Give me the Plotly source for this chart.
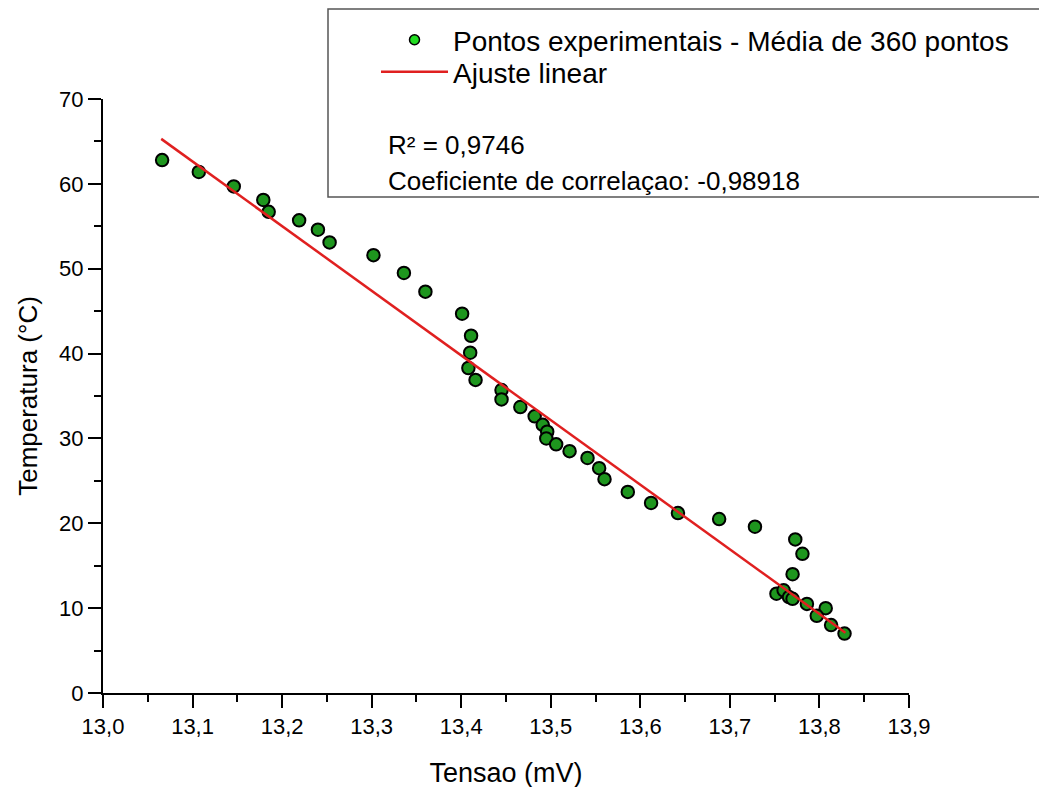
import plotly.graph_objects as go

# Experimental points (Tensao in mV, Temperatura in °C)
tensao = [13.066, 13.107, 13.146, 13.179, 13.185, 13.219, 13.240, 13.253, 13.302,
          13.336, 13.360, 13.401, 13.411, 13.410, 13.408, 13.416, 13.445, 13.445,
          13.466, 13.482, 13.491, 13.496, 13.495, 13.506, 13.521, 13.541, 13.554,
          13.560, 13.586, 13.612, 13.642, 13.688, 13.728, 13.773, 13.781, 13.770,
          13.752, 13.760, 13.766, 13.770, 13.786, 13.807, 13.797, 13.813, 13.828]
temperatura = [62.8, 61.4, 59.7, 58.1, 56.7, 55.7, 54.6, 53.1, 51.6,
               49.5, 47.3, 44.7, 42.1, 40.1, 38.3, 36.9, 35.7, 34.6,
               33.7, 32.6, 31.6, 30.8, 30.0, 29.3, 28.5, 27.7, 26.5,
               25.2, 23.7, 22.4, 21.2, 20.5, 19.6, 18.1, 16.4, 14.0,
               11.7, 12.1, 11.3, 11.1, 10.5, 10.0, 9.1, 8.0, 7.0]

# Linear fit endpoints
ajuste_x = [13.065, 13.829]
ajuste_y = [65.3, 7.1]

x_ticks = [13.0, 13.1, 13.2, 13.3, 13.4, 13.5, 13.6, 13.7, 13.8, 13.9]
y_ticks = [0, 10, 20, 30, 40, 50, 60, 70]

label_pts = "Pontos experimentais - Média de 360 pontos"
label_fit = "Ajuste linear"
txt_r2 = "R² = 0,9746"
txt_corr = "Coeficiente de correlaçao: -0,98918"

FONT = "Liberation Sans, Arial, sans-serif"

fig = go.Figure()

fig.add_trace(go.Scatter(
    x=tensao, y=temperatura, mode="markers", showlegend=False,
    marker=dict(size=12.5, color="#1e961e", line=dict(color="black", width=2)),
))
fig.add_trace(go.Scatter(
    x=ajuste_x, y=ajuste_y, mode="lines", showlegend=False,
    line=dict(color="#e02020", width=2.5),
))
# legend entries
fig.add_trace(go.Scatter(
    x=[None], y=[None], mode="markers", name=label_pts, legend="legend",
    marker=dict(size=10, color="#22dd22", line=dict(color="black", width=1.5)),
))
fig.add_trace(go.Scatter(
    x=[None], y=[None], mode="lines", name=label_fit, legend="legend2",
    line=dict(color="#e02020", width=2.5),
))

axis_common = dict(
    showline=True, linecolor="black", linewidth=2, mirror=False,
    ticks="outside", ticklen=13, tickwidth=2, tickcolor="black",
    showgrid=False, zeroline=False,
    tickfont=dict(family=FONT, size=22, color="black"),
)

fig.update_xaxes(
    range=[13.0, 13.9], tickvals=x_ticks, tickformat=".1f",
    minor=dict(dtick=0.05, tick0=13.0, ticklen=7, tickwidth=2, ticks="outside", tickcolor="black"),
    title=dict(text="Tensao (mV)", font=dict(family=FONT, size=27, color="black"), standoff=25),
    **axis_common,
)
fig.update_yaxes(
    range=[0, 70], tickvals=y_ticks,
    minor=dict(dtick=5, tick0=0, ticklen=7, tickwidth=2, ticks="outside", tickcolor="black"),
    title=dict(text="Temperatura (°C)", font=dict(family=FONT, size=26, color="black"), standoff=14),
    **axis_common,
)

W, H = 1047, 787
# plot area in screen pixels (page has an 8px body margin)
SX0, SX1, SY0, SY1 = 103, 909, 99, 693
OFF = 8
L = SX0 - OFF
T = SY0 - OFF
R = W - L - (SX1 - SX0)
B = H - T - (SY1 - SY0)
pw, ph = SX1 - SX0, SY1 - SY0

def px(xs):
    return (xs - SX0) / pw

def py(ys):
    return (SY1 - ys) / ph

fig.add_shape(type="rect", xref="paper", yref="paper",
              x0=px(328), x1=px(1070), y0=py(197), y1=py(9),
              line=dict(color="#555555", width=1.5), fillcolor="rgba(0,0,0,0)")

fig.add_annotation(xref="paper", yref="paper", x=px(386), y=py(145),
                   xanchor="left", yanchor="middle", showarrow=False, text=txt_r2,
                   font=dict(family=FONT, size=26, color="black"))
fig.add_annotation(xref="paper", yref="paper", x=px(386), y=py(181),
                   xanchor="left", yanchor="middle", showarrow=False, text=txt_corr,
                   font=dict(family=FONT, size=26, color="black"))

legend_common = dict(
    xanchor="left", yanchor="middle",
    bgcolor="rgba(0,0,0,0)", borderwidth=0,
    font=dict(family=FONT, size=28, color="black"),
    itemwidth=67,
)

fig.update_layout(
    width=W, height=H,
    margin=dict(l=L, r=R, t=T, b=B, autoexpand=False),
    paper_bgcolor="white", plot_bgcolor="white",
    separators=",.",
    font=dict(family=FONT, color="black"),
    legend=dict(x=px(376), y=py(40), **legend_common),
    legend2=dict(x=px(376), y=py(72), **legend_common),
)

fig.write_html("out.html")
